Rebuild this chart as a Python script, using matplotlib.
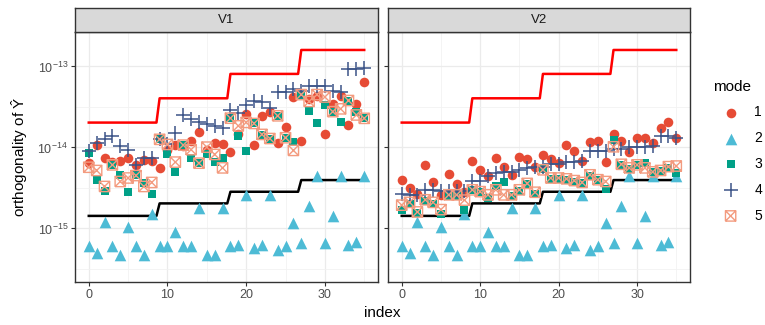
import numpy as np
import matplotlib
matplotlib.use("Agg")
import matplotlib.pyplot as plt
from matplotlib.path import Path
from matplotlib.ticker import FixedLocator, NullFormatter

# ---------------- data (units of 1e-15) ----------------
index = np.arange(36)
panels = ["V1", "V2"]
modes = ["1", "2", "3", "4", "5"]

v1_mode1 = np.array([6.5, 10.6, 7.4, 6.7, 6.8, 7.4, 6.1, 7.1, 6.9, 5.6,
                     9.4, 10.6, 10.3, 11.9, 15.4, 9.4, 11.5, 11.1, 8.9, 14.5,
                     25.8, 10.6, 24.4, 27.4, 11.5, 17.8, 42.0, 11.9, 40.0, 43.0,
                     14.5, 34.0, 43.0, 18.9, 34.5, 65.0]) * 1e-15
mode2 = np.array([0.6, 0.5, 1.2, 0.6, 0.47, 1.04, 0.6, 0.47, 1.53, 0.61,
                  0.61, 0.91, 0.61, 0.61, 1.81, 0.47, 0.47, 1.81, 0.61, 0.63,
                  2.59, 0.58, 0.63, 2.59, 0.54, 0.6, 1.16, 0.655, 1.88, 4.47,
                  0.655, 1.41, 4.47, 0.63, 0.69, 4.47]) * 1e-15
v1_mode3 = np.array([8.5, 4.0, 2.9, 6.1, 4.6, 2.85, 4.6, 3.6, 2.7, 12.6,
                     8.2, 5.0, 10.7, 7.4, 6.4, 8.2, 6.7, 7.4, 23.0, 13.8,
                     9.0, 19.8, 14.1, 12.9, 24.6, 13.2, 11.8, 45.0, 28.0, 19.8,
                     33.0, 27.7, 20.7, 38.0, 27.2, 22.9]) * 1e-15
v1_mode4 = np.array([9.0, 11.4, 12.6, 13.8, 10.4, 9.4, 6.1, 7.4, 7.4, 12.6,
                     11.0, 15.3, 25.3, 22.4, 20.4, 19.4, 18.5, 17.3, 29.0, 26.3,
                     33.0, 37.0, 36.0, 31.0, 48.5, 48.5, 52.0, 50.0, 57.0, 57.0,
                     57.0, 50.0, 48.0, 92.0, 94.0, 96.0]) * 1e-15
v1_mode5 = np.array([5.7, 5.2, 3.3, 6.1, 3.8, 4.2, 4.5, 3.3, 3.7, 12.6,
                     10.9, 6.6, 10.7, 9.4, 6.4, 10.1, 8.2, 5.6, 23.0, 18.5,
                     20.4, 19.8, 14.5, 12.9, 24.6, 13.2, 9.2, 45.0, 37.0, 45.0,
                     42.0, 27.7, 30.0, 38.0, 25.2, 22.9]) * 1e-15

v2_mode1 = np.array([3.98, 3.19, 2.66, 6.1, 3.8, 2.6, 4.7, 3.5, 2.85, 6.9,
                     5.3, 4.4, 7.4, 5.7, 4.6, 7.6, 7.2, 5.7, 8.0, 7.2,
                     6.4, 10.6, 9.0, 6.9, 11.6, 12.0, 6.6, 14.5, 12.0, 8.7,
                     13.2, 13.2, 11.2, 17.6, 20.4, 13.2]) * 1e-15
v2_mode3 = np.array([1.71, 2.0, 1.55, 2.2, 2.0, 1.5, 2.55, 2.55, 1.71, 3.0,
                     2.8, 2.4, 3.35, 3.7, 2.5, 2.9, 3.5, 2.7, 5.4, 4.1,
                     4.1, 4.0, 3.8, 3.6, 4.5, 4.0, 3.1, 12.3, 6.0, 5.5,
                     6.0, 6.4, 5.0, 5.1, 5.6, 4.8]) * 1e-15
v2_mode4 = np.array([2.7, 2.6, 2.6, 3.0, 3.0, 2.9, 2.9, 2.9, 2.9, 3.9,
                     3.9, 4.5, 4.8, 5.0, 5.0, 5.3, 5.6, 5.7, 5.8, 6.3,
                     6.3, 6.6, 6.7, 6.9, 9.0, 9.0, 9.0, 9.6, 9.6, 10.2,
                     10.2, 10.2, 10.4, 13.8, 13.8, 13.2]) * 1e-15
v2_mode5 = np.array([1.94, 2.1, 1.6, 2.26, 2.1, 1.71, 2.6, 2.6, 2.24, 3.0,
                     2.85, 2.6, 3.0, 2.6, 2.6, 3.0, 3.6, 2.8, 5.3, 4.2,
                     4.2, 4.1, 3.9, 3.7, 4.6, 4.0, 3.8, 10.2, 6.2, 5.6,
                     6.1, 5.6, 5.0, 5.2, 5.8, 5.9]) * 1e-15

# bound lines (same in both panels)
bound_x = [0, 8.6, 9, 17.6, 18, 26.6, 27, 35]
upper_bound = np.array([20.3, 20.3, 40.5, 40.5, 81.0, 81.0, 160.0, 160.0]) * 1e-15
lower_bound = np.array([1.43, 1.43, 2.04, 2.04, 2.84, 2.84, 3.96, 3.96]) * 1e-15

data = {
    "V1": [v1_mode1, mode2, v1_mode3, v1_mode4, v1_mode5],
    "V2": [v2_mode1, mode2, v2_mode3, v2_mode4, v2_mode5],
}

# ---------------- style ----------------
colors = ["#E64B35", "#4DBBD5", "#00A087", "#3C5488", "#F39B7F"]
crossed_box = Path([(-1, -1), (1, -1), (1, 1), (-1, 1), (-1, -1),
                    (-1, -1), (1, 1), (-1, 1), (1, -1)],
                   [Path.MOVETO, Path.LINETO, Path.LINETO, Path.LINETO, Path.LINETO,
                    Path.MOVETO, Path.LINETO, Path.MOVETO, Path.LINETO])
markers = ["o", "^", "s", "+", crossed_box]
sizes = [48, 70, 40, 100, 55]

plt.rcParams["font.family"] = "Liberation Sans"
plt.rcParams["mathtext.fontset"] = "custom"
plt.rcParams["mathtext.rm"] = "Liberation Sans"
plt.rcParams["mathtext.it"] = "Liberation Sans"

fig = plt.figure(figsize=(7.65, 3.25), dpi=100)
W, H = 765, 325
panel_px = [(75, 378), (388, 690)]
top_px, bot_px = 32, 282
strip_top = 8

handles = []
for p, (name, (x0, x1)) in enumerate(zip(panels, panel_px)):
    ax = fig.add_axes([x0 / W, 1 - bot_px / H, (x1 - x0) / W, (bot_px - top_px) / H])
    ax.set_yscale("log")
    ax.set_xlim(-1.75, 36.75)
    ax.set_ylim(10 ** -15.661, 10 ** -12.574)

    ax.plot(bound_x, upper_bound, color="#FF0000", lw=1.8, zorder=2)
    ax.plot(bound_x, lower_bound, color="black", lw=1.8, zorder=2)

    for m, vals in enumerate(data[name]):
        if m == 3:
            h = ax.scatter(index, vals, marker=markers[m], s=sizes[m], color=colors[m],
                           linewidths=1.1, zorder=3 + m, label=modes[m])
        elif m == 4:
            h = ax.scatter(index, vals, marker=markers[m], s=sizes[m], facecolors="none",
                           edgecolors=colors[m], linewidths=1.0, zorder=3 + m, label=modes[m])
        else:
            h = ax.scatter(index, vals, marker=markers[m], s=sizes[m], color=colors[m],
                           linewidths=0, zorder=3 + m, label=modes[m])
        if p == 0:
            handles.append(h)

    ax.set_xticks([0, 10, 20, 30])
    ax.xaxis.set_minor_locator(FixedLocator([5, 15, 25, 35]))
    ax.set_yticks([1e-15, 1e-14, 1e-13])
    ax.set_yticklabels([r"$\mathregular{10^{-15}}$", r"$\mathregular{10^{-14}}$",
                        r"$\mathregular{10^{-13}}$"] if p == 0 else [])
    ax.yaxis.set_minor_locator(FixedLocator([10 ** -15.5, 10 ** -14.5, 10 ** -13.5]))
    ax.yaxis.set_minor_formatter(NullFormatter())
    ax.grid(which="major", color="#EBEBEB", lw=0.9, zorder=0)
    ax.grid(which="minor", color="#F2F2F2", lw=0.6, zorder=0)
    ax.set_axisbelow(True)
    ax.tick_params(which="major", length=3, width=0.8, color="#333333",
                   labelcolor="#4D4D4D", labelsize=9, pad=2)
    ax.tick_params(which="minor", length=0)
    for s in ax.spines.values():
        s.set_color("#333333")
        s.set_linewidth(1.0)

    # facet strip
    sax = fig.add_axes([x0 / W, 1 - top_px / H, (x1 - x0) / W, (top_px - strip_top) / H])
    sax.set_facecolor("#D9D9D9")
    sax.set_xticks([])
    sax.set_yticks([])
    for s in sax.spines.values():
        s.set_color("#333333")
        s.set_linewidth(1.0)
    sax.text(0.5, 0.5, name, ha="center", va="center", fontsize=9.5, color="#1A1A1A",
             transform=sax.transAxes)

fig.text((75 + 690) / 2 / W, 1 - 313 / H, "index", ha="center", va="center", fontsize=11)
fig.text(20 / W, 1 - 157 / H, r"orthogonality of $\hat{\mathregular{Y}}$", ha="center",
         va="center", rotation=90, fontsize=11)

fig.legend(handles=handles, labels=modes, title="mode", loc="upper left",
           bbox_to_anchor=(707 / W, 1 - 74 / H), frameon=False, fontsize=10,
           title_fontsize=11, handletextpad=0.4, labelspacing=0.85, borderaxespad=0,
           handlelength=2.6, alignment="left")

fig.savefig("out.png", dpi=100)
